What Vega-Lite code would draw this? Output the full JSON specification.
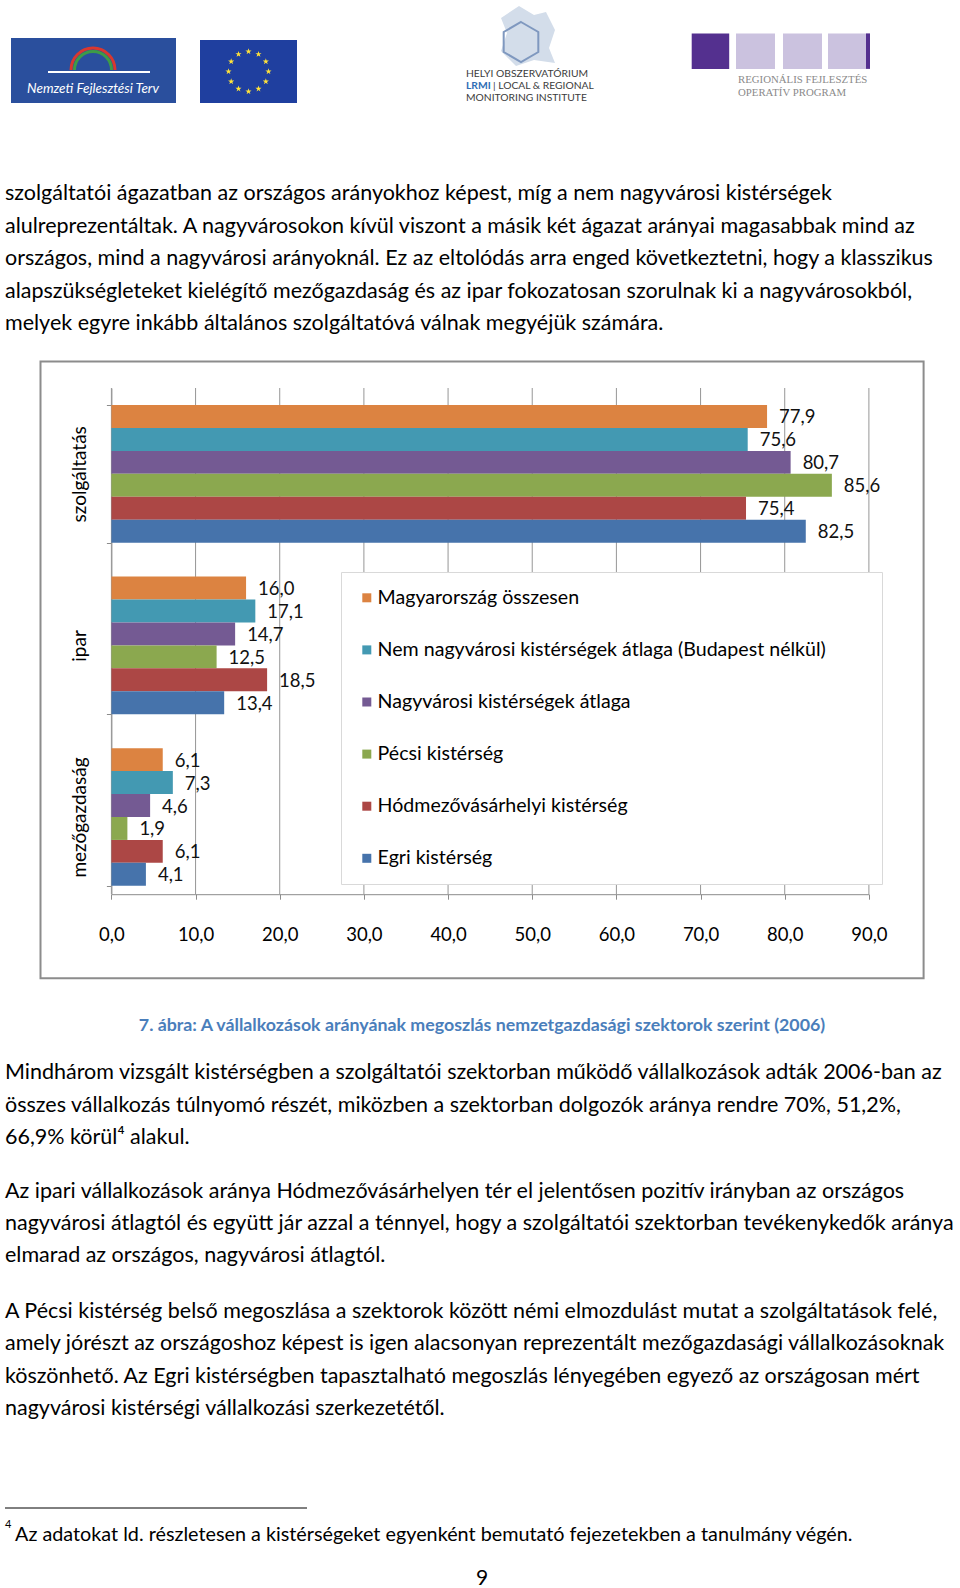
{
  "$schema": "https://vega.github.io/schema/vega-lite/v6.json",
  "width": 960,
  "height": 1588,
  "autosize": {"type": "none"},
  "padding": 0,
  "background": "white",
  "config": {
    "view": {"stroke": null},
    "font": "Lato",
    "locale": {"number": {"decimal": ",", "thousands": " ", "grouping": [3], "currency": ["", " Ft"]}}
  },
  "data": {"values": [{}]},
  "resolve": {"scale": {"x": "independent", "y": "independent"}},
  "layer": [
    {"mark": {"type": "rect", "fill": "white", "fillOpacity": 0, "stroke": "#8C8C8C", "strokeWidth": 2},
     "encoding": {"x": {"datum": 40.5, "type": "quantitative", "scale": {"domain": [0, 960], "range": [0, 960], "nice": false, "zero": false}, "axis": null}, "x2": {"datum": 923.6},
                  "y": {"datum": 361.5, "type": "quantitative", "scale": {"domain": [0, 1588], "range": [0, 1588], "nice": false, "zero": false}, "axis": null}, "y2": {"datum": 978.3}}},
    {
      "data": {"values": [{"t": 0}, {"t": 10}, {"t": 20}, {"t": 30}, {"t": 40}, {"t": 50}, {"t": 60}, {"t": 70}, {"t": 80}, {"t": 90}]},
      "mark": {"type": "rule", "color": "#969696", "strokeWidth": 1},
      "encoding": {
        "x": {"field": "t", "type": "quantitative", "title": null,
              "scale": {"domain": [0, 90], "range": [111.4, 868.9], "nice": false, "zero": false},
              "axis": {"orient": "bottom", "offset": -693.8, "values": [0, 10, 20, 30, 40, 50, 60, 70, 80, 90], "format": ".1f", "grid": false,
                       "labelFlush": false, "labelOverlap": false,
                       "domainColor": "#8C8C8C", "tickColor": "#8C8C8C", "tickSize": 5, "labelFont": "Lato", "labelFontSize": 18.5,
                       "labelColor": "#000", "labelPadding": 26, "title": null}},
        "y": {"datum": 0, "type": "quantitative", "scale": {"domain": [0, 1], "range": [894.2, 388], "nice": false, "zero": false}, "axis": null},
        "y2": {"datum": 1}
      }
    },
    {
      "data": {"values": [
        {"cat": "szolgáltatás", "ser": "Magyarország összesen", "value": 77.9},
        {"cat": "szolgáltatás", "ser": "Nem nagyvárosi kistérségek átlaga (Budapest nélkül)", "value": 75.6},
        {"cat": "szolgáltatás", "ser": "Nagyvárosi kistérségek átlaga", "value": 80.7},
        {"cat": "szolgáltatás", "ser": "Pécsi kistérség", "value": 85.6},
        {"cat": "szolgáltatás", "ser": "Hódmezővásárhelyi kistérség", "value": 75.4},
        {"cat": "szolgáltatás", "ser": "Egri kistérség", "value": 82.5},
        {"cat": "ipar", "ser": "Magyarország összesen", "value": 16.0},
        {"cat": "ipar", "ser": "Nem nagyvárosi kistérségek átlaga (Budapest nélkül)", "value": 17.1},
        {"cat": "ipar", "ser": "Nagyvárosi kistérségek átlaga", "value": 14.7},
        {"cat": "ipar", "ser": "Pécsi kistérség", "value": 12.5},
        {"cat": "ipar", "ser": "Hódmezővásárhelyi kistérség", "value": 18.5},
        {"cat": "ipar", "ser": "Egri kistérség", "value": 13.4},
        {"cat": "mezőgazdaság", "ser": "Magyarország összesen", "value": 6.1},
        {"cat": "mezőgazdaság", "ser": "Nem nagyvárosi kistérségek átlaga (Budapest nélkül)", "value": 7.3},
        {"cat": "mezőgazdaság", "ser": "Nagyvárosi kistérségek átlaga", "value": 4.6},
        {"cat": "mezőgazdaság", "ser": "Pécsi kistérség", "value": 1.9},
        {"cat": "mezőgazdaság", "ser": "Hódmezővásárhelyi kistérség", "value": 6.1},
        {"cat": "mezőgazdaság", "ser": "Egri kistérség", "value": 4.1}
      ]},
      "encoding": {
        "y": {"field": "cat", "type": "nominal", "title": null,
              "sort": ["szolgáltatás", "ipar", "mezőgazdaság"],
              "scale": {"domain": ["szolgáltatás", "ipar", "mezőgazdaság"], "range": [388, 894.2], "paddingInner": 0.1975, "paddingOuter": 0.074, "align": 0.67},
              "axis": {"orient": "left", "offset": -111.4, "tickBand": "extent", "domainColor": "#8C8C8C", "tickColor": "#8C8C8C", "tickSize": 5,
                       "labelAngle": -90, "labelAlign": "center", "labelBaseline": "bottom", "labelFont": "Lato", "labelFontSize": 19,
                       "labelColor": "#000", "labelPadding": 17, "title": null}},
        "yOffset": {"field": "ser", "type": "nominal",
                    "sort": ["Magyarország összesen", "Nem nagyvárosi kistérségek átlaga (Budapest nélkül)", "Nagyvárosi kistérségek átlaga", "Pécsi kistérség", "Hódmezővásárhelyi kistérség", "Egri kistérség"],
                    "scale": {"domain": ["Magyarország összesen", "Nem nagyvárosi kistérségek átlaga (Budapest nélkül)", "Nagyvárosi kistérségek átlaga", "Pécsi kistérség", "Hódmezővásárhelyi kistérség", "Egri kistérség"], "paddingInner": 0, "paddingOuter": 0}},
        "x": {"field": "value", "type": "quantitative", "title": null,
              "scale": {"domain": [0, 90], "range": [111.4, 868.9], "nice": false, "zero": false}, "axis": null}
      },
      "layer": [
        {
          "mark": {"type": "bar"},
          "encoding": {
            "color": {"field": "ser", "type": "nominal",
                      "scale": {"domain": ["Magyarország összesen", "Nem nagyvárosi kistérségek átlaga (Budapest nélkül)", "Nagyvárosi kistérségek átlaga", "Pécsi kistérség", "Hódmezővásárhelyi kistérség", "Egri kistérség"],
                                "range": ["#DC8341", "#4399B2", "#745A93", "#8BA84F", "#AC4745", "#4673AB"]},
                      "legend": {"orient": "none", "legendX": 341, "legendY": 572, "title": null, "fillColor": "white", "strokeColor": "#D9D9D9",
                                 "padding": 16, "symbolType": "square", "symbolSize": 81, "symbolStrokeWidth": 0,
                                 "labelFont": "Lato", "labelFontSize": 19.6, "labelColor": "#000", "rowPadding": 31.1, "labelOffset": 1, "labelLimit": 800,
                                 "labelExpr": "datum.label + '\u00a0\u00a0\u00a0\u00a0\u00a0\u2800'"}}
          }
        },
        {
          "mark": {"type": "text", "align": "left", "baseline": "middle", "dx": 12, "dy": 1, "font": "Lato", "fontSize": 18.5, "color": "#111"},
          "encoding": {"text": {"field": "value", "type": "quantitative", "format": ".1f"}}
        }
      ]
    },
    {"mark": {"type": "rect", "color": "#2A4F9D"},
     "encoding": {"x": {"datum": 11, "type": "quantitative", "scale": {"domain": [0, 960], "range": [0, 960], "nice": false, "zero": false}, "axis": null}, "x2": {"datum": 176},
                  "y": {"datum": 38, "type": "quantitative", "scale": {"domain": [0, 1588], "range": [0, 1588], "nice": false, "zero": false}, "axis": null}, "y2": {"datum": 103}}},
    {"mark": {"type": "rect", "color": "#1F3F9F"},
     "encoding": {"x": {"datum": 200, "type": "quantitative", "scale": {"domain": [0, 960], "range": [0, 960], "nice": false, "zero": false}, "axis": null}, "x2": {"datum": 297},
                  "y": {"datum": 40, "type": "quantitative", "scale": {"domain": [0, 1588], "range": [0, 1588], "nice": false, "zero": false}, "axis": null}, "y2": {"datum": 103}}},
    {"mark": {"type": "rect", "color": "#54308F"},
     "encoding": {"x": {"datum": 691.7, "type": "quantitative", "scale": {"domain": [0, 960], "range": [0, 960], "nice": false, "zero": false}, "axis": null}, "x2": {"datum": 729.2},
                  "y": {"datum": 33.4, "type": "quantitative", "scale": {"domain": [0, 1588], "range": [0, 1588], "nice": false, "zero": false}, "axis": null}, "y2": {"datum": 68.9}}},
    {"mark": {"type": "rect", "color": "#CBC2DF"},
     "encoding": {"x": {"datum": 736, "type": "quantitative", "scale": {"domain": [0, 960], "range": [0, 960], "nice": false, "zero": false}, "axis": null}, "x2": {"datum": 775},
                  "y": {"datum": 33.4, "type": "quantitative", "scale": {"domain": [0, 1588], "range": [0, 1588], "nice": false, "zero": false}, "axis": null}, "y2": {"datum": 68.9}}},
    {"mark": {"type": "rect", "color": "#CBC2DF"},
     "encoding": {"x": {"datum": 783, "type": "quantitative", "scale": {"domain": [0, 960], "range": [0, 960], "nice": false, "zero": false}, "axis": null}, "x2": {"datum": 822},
                  "y": {"datum": 33.4, "type": "quantitative", "scale": {"domain": [0, 1588], "range": [0, 1588], "nice": false, "zero": false}, "axis": null}, "y2": {"datum": 68.9}}},
    {"mark": {"type": "rect", "color": "#CBC2DF"},
     "encoding": {"x": {"datum": 828, "type": "quantitative", "scale": {"domain": [0, 960], "range": [0, 960], "nice": false, "zero": false}, "axis": null}, "x2": {"datum": 866},
                  "y": {"datum": 33.4, "type": "quantitative", "scale": {"domain": [0, 1588], "range": [0, 1588], "nice": false, "zero": false}, "axis": null}, "y2": {"datum": 68.9}}},
    {"mark": {"type": "rect", "color": "#54308F"},
     "encoding": {"x": {"datum": 866, "type": "quantitative", "scale": {"domain": [0, 960], "range": [0, 960], "nice": false, "zero": false}, "axis": null}, "x2": {"datum": 870},
                  "y": {"datum": 33.4, "type": "quantitative", "scale": {"domain": [0, 1588], "range": [0, 1588], "nice": false, "zero": false}, "axis": null}, "y2": {"datum": 68.9}}},
    {"mark": {"type": "point", "filled": true, "opacity": 1, "color": "#FFE23A", "size": 2500,
              "shape": "M0,-0.93l0.0294,0.0895l0.0942,0.0003l-0.076,0.0557l0.0288,0.0897l-0.0764,-0.0552l-0.0764,0.0552l0.0288,-0.0897l-0.076,-0.0557l0.0942,-0.0003zM0.4,-0.8228l0.0294,0.0895l0.0942,0.0003l-0.076,0.0557l0.0288,0.0897l-0.0764,-0.0552l-0.0764,0.0552l0.0288,-0.0897l-0.076,-0.0557l0.0942,-0.0003zM0.6928,-0.53l0.0294,0.0895l0.0942,0.0003l-0.076,0.0557l0.0288,0.0897l-0.0764,-0.0552l-0.0764,0.0552l0.0288,-0.0897l-0.076,-0.0557l0.0942,-0.0003zM0.8,-0.13l0.0294,0.0895l0.0942,0.0003l-0.076,0.0557l0.0288,0.0897l-0.0764,-0.0552l-0.0764,0.0552l0.0288,-0.0897l-0.076,-0.0557l0.0942,-0.0003zM0.6928,0.27l0.0294,0.0895l0.0942,0.0003l-0.076,0.0557l0.0288,0.0897l-0.0764,-0.0552l-0.0764,0.0552l0.0288,-0.0897l-0.076,-0.0557l0.0942,-0.0003zM0.4,0.5628l0.0294,0.0895l0.0942,0.0003l-0.076,0.0557l0.0288,0.0897l-0.0764,-0.0552l-0.0764,0.0552l0.0288,-0.0897l-0.076,-0.0557l0.0942,-0.0003zM0,0.67l0.0294,0.0895l0.0942,0.0003l-0.076,0.0557l0.0288,0.0897l-0.0764,-0.0552l-0.0764,0.0552l0.0288,-0.0897l-0.076,-0.0557l0.0942,-0.0003zM-0.4,0.5628l0.0294,0.0895l0.0942,0.0003l-0.076,0.0557l0.0288,0.0897l-0.0764,-0.0552l-0.0764,0.0552l0.0288,-0.0897l-0.076,-0.0557l0.0942,-0.0003zM-0.6928,0.27l0.0294,0.0895l0.0942,0.0003l-0.076,0.0557l0.0288,0.0897l-0.0764,-0.0552l-0.0764,0.0552l0.0288,-0.0897l-0.076,-0.0557l0.0942,-0.0003zM-0.8,-0.13l0.0294,0.0895l0.0942,0.0003l-0.076,0.0557l0.0288,0.0897l-0.0764,-0.0552l-0.0764,0.0552l0.0288,-0.0897l-0.076,-0.0557l0.0942,-0.0003zM-0.6928,-0.53l0.0294,0.0895l0.0942,0.0003l-0.076,0.0557l0.0288,0.0897l-0.0764,-0.0552l-0.0764,0.0552l0.0288,-0.0897l-0.076,-0.0557l0.0942,-0.0003zM-0.4,-0.8228l0.0294,0.0895l0.0942,0.0003l-0.076,0.0557l0.0288,0.0897l-0.0764,-0.0552l-0.0764,0.0552l0.0288,-0.0897l-0.076,-0.0557l0.0942,-0.0003z"},
     "encoding": {"x": {"datum": 248.5, "type": "quantitative", "scale": {"domain": [0, 960], "range": [0, 960], "nice": false, "zero": false}, "axis": null},
                  "y": {"datum": 71.5, "type": "quantitative", "scale": {"domain": [0, 1588], "range": [0, 1588], "nice": false, "zero": false}, "axis": null}}},
    {"mark": {"type": "point", "filled": false, "opacity": 1, "stroke": "#D9382F", "strokeWidth": 3, "size": 1936, "shape": "M-1,0A1,1,0,0,1,1,0"},
     "encoding": {"x": {"datum": 93, "type": "quantitative", "scale": {"domain": [0, 960], "range": [0, 960], "nice": false, "zero": false}, "axis": null},
                  "y": {"datum": 70, "type": "quantitative", "scale": {"domain": [0, 1588], "range": [0, 1588], "nice": false, "zero": false}, "axis": null}}},
    {"mark": {"type": "point", "filled": false, "opacity": 1, "stroke": "#3E9B47", "strokeWidth": 3, "size": 1369, "shape": "M-1,0A1,1,0,0,1,1,0"},
     "encoding": {"x": {"datum": 93, "type": "quantitative", "scale": {"domain": [0, 960], "range": [0, 960], "nice": false, "zero": false}, "axis": null},
                  "y": {"datum": 70, "type": "quantitative", "scale": {"domain": [0, 1588], "range": [0, 1588], "nice": false, "zero": false}, "axis": null}}},
    {"mark": {"type": "rule", "color": "white", "strokeWidth": 2},
     "encoding": {"x": {"datum": 48, "type": "quantitative", "scale": {"domain": [0, 960], "range": [0, 960], "nice": false, "zero": false}, "axis": null}, "x2": {"datum": 150},
                  "y": {"datum": 72, "type": "quantitative", "scale": {"domain": [0, 1588], "range": [0, 1588], "nice": false, "zero": false}, "axis": null}}},
    {"mark": {"type": "text", "color": "white", "fontStyle": "italic", "fontSize": 13.5, "align": "center", "baseline": "middle", "text": "Nemzeti Fejlesztési Terv"},
     "encoding": {"x": {"datum": 93, "type": "quantitative", "scale": {"domain": [0, 960], "range": [0, 960], "nice": false, "zero": false}, "axis": null},
                  "y": {"datum": 89, "type": "quantitative", "scale": {"domain": [0, 1588], "range": [0, 1588], "nice": false, "zero": false}, "axis": null}}},
    {"mark": {"type": "point", "filled": true, "opacity": 1, "color": "#D3DDEA", "size": 3600,
              "shape": "M-0.3,-1L0.2,-0.7L0.6,-0.8L0.9,-0.2L0.7,0.4L0.9,0.9L0.2,0.8L-0.4,1L-0.9,0.5L-0.7,-0.1L-0.9,-0.6Z"},
     "encoding": {"x": {"datum": 528, "type": "quantitative", "scale": {"domain": [0, 960], "range": [0, 960], "nice": false, "zero": false}, "axis": null},
                  "y": {"datum": 36, "type": "quantitative", "scale": {"domain": [0, 1588], "range": [0, 1588], "nice": false, "zero": false}, "axis": null}}},
    {"mark": {"type": "point", "filled": false, "opacity": 1, "stroke": "#7F98BF", "strokeWidth": 2, "size": 1600,
              "shape": "M0,-1L0.866,-0.5L0.866,0.5L0,1L-0.866,0.5L-0.866,-0.5Z"},
     "encoding": {"x": {"datum": 521, "type": "quantitative", "scale": {"domain": [0, 960], "range": [0, 960], "nice": false, "zero": false}, "axis": null},
                  "y": {"datum": 42, "type": "quantitative", "scale": {"domain": [0, 1588], "range": [0, 1588], "nice": false, "zero": false}, "axis": null}}},
    {"mark": {"type": "text", "color": "#3C3C3C", "fontSize": 10.3, "align": "left", "baseline": "middle", "text": "HELYI OBSZERVATÓRIUM"},
     "encoding": {"x": {"datum": 466, "type": "quantitative", "scale": {"domain": [0, 960], "range": [0, 960], "nice": false, "zero": false}, "axis": null},
                  "y": {"datum": 74, "type": "quantitative", "scale": {"domain": [0, 1588], "range": [0, 1588], "nice": false, "zero": false}, "axis": null}}},
    {"mark": {"type": "text", "color": "#2F6EB5", "fontSize": 10.3, "fontWeight": "bold", "align": "left", "baseline": "middle", "text": "LRMI"},
     "encoding": {"x": {"datum": 466, "type": "quantitative", "scale": {"domain": [0, 960], "range": [0, 960], "nice": false, "zero": false}, "axis": null},
                  "y": {"datum": 86, "type": "quantitative", "scale": {"domain": [0, 1588], "range": [0, 1588], "nice": false, "zero": false}, "axis": null}}},
    {"mark": {"type": "text", "color": "#3C3C3C", "fontSize": 10.3, "align": "left", "baseline": "middle", "text": "| LOCAL & REGIONAL"},
     "encoding": {"x": {"datum": 493, "type": "quantitative", "scale": {"domain": [0, 960], "range": [0, 960], "nice": false, "zero": false}, "axis": null},
                  "y": {"datum": 86, "type": "quantitative", "scale": {"domain": [0, 1588], "range": [0, 1588], "nice": false, "zero": false}, "axis": null}}},
    {"mark": {"type": "text", "color": "#3C3C3C", "fontSize": 10.3, "align": "left", "baseline": "middle", "text": "MONITORING INSTITUTE"},
     "encoding": {"x": {"datum": 466, "type": "quantitative", "scale": {"domain": [0, 960], "range": [0, 960], "nice": false, "zero": false}, "axis": null},
                  "y": {"datum": 98, "type": "quantitative", "scale": {"domain": [0, 1588], "range": [0, 1588], "nice": false, "zero": false}, "axis": null}}},
    {"mark": {"type": "text", "color": "#8A8A8A", "font": "Liberation Serif", "fontSize": 10.8, "align": "left", "baseline": "middle", "text": "REGIONÁLIS FEJLESZTÉS"},
     "encoding": {"x": {"datum": 738, "type": "quantitative", "scale": {"domain": [0, 960], "range": [0, 960], "nice": false, "zero": false}, "axis": null},
                  "y": {"datum": 80, "type": "quantitative", "scale": {"domain": [0, 1588], "range": [0, 1588], "nice": false, "zero": false}, "axis": null}}},
    {"mark": {"type": "text", "color": "#8A8A8A", "font": "Liberation Serif", "fontSize": 10.8, "align": "left", "baseline": "middle", "text": "OPERATÍV PROGRAM"},
     "encoding": {"x": {"datum": 738, "type": "quantitative", "scale": {"domain": [0, 960], "range": [0, 960], "nice": false, "zero": false}, "axis": null},
                  "y": {"datum": 93, "type": "quantitative", "scale": {"domain": [0, 1588], "range": [0, 1588], "nice": false, "zero": false}, "axis": null}}},
    {"data": {"values": [
        {"ln": 0, "text": "szolgáltatói ágazatban az országos arányokhoz képest, míg a nem nagyvárosi kistérségek"},
        {"ln": 1, "text": "alulreprezentáltak. A nagyvárosokon kívül viszont a másik két ágazat arányai magasabbak mind az"},
        {"ln": 2, "text": "országos, mind a nagyvárosi arányoknál. Ez az eltolódás arra enged következtetni, hogy a klasszikus"},
        {"ln": 3, "text": "alapszükségleteket kielégítő mezőgazdaság és az ipar fokozatosan szorulnak ki a nagyvárosokból,"},
        {"ln": 4, "text": "melyek egyre inkább általános szolgáltatóvá válnak megyéjük számára."}
      ]},
     "mark": {"type": "text", "color": "#000", "fontSize": 21.5, "align": "left", "baseline": "middle"},
     "encoding": {"x": {"datum": 5, "type": "quantitative", "scale": {"domain": [0, 960], "range": [0, 960], "nice": false, "zero": false}, "axis": null},
                  "y": {"field": "ln", "type": "quantitative", "scale": {"domain": [0, 4], "range": [194.4, 324], "nice": false, "zero": false}, "axis": null},
                  "text": {"field": "text"}}},
    {"mark": {"type": "text", "color": "#4A7EBB", "fontSize": 17.8, "fontWeight": "bold", "align": "center", "baseline": "middle",
              "text": "7. ábra: A vállalkozások arányának megoszlás nemzetgazdasági szektorok szerint (2006)"},
     "encoding": {"x": {"datum": 482, "type": "quantitative", "scale": {"domain": [0, 960], "range": [0, 960], "nice": false, "zero": false}, "axis": null},
                  "y": {"datum": 1026, "type": "quantitative", "scale": {"domain": [0, 1588], "range": [0, 1588], "nice": false, "zero": false}, "axis": null}}},
    {"data": {"values": [
        {"ln": 0, "text": "Mindhárom vizsgált kistérségben a szolgáltatói szektorban működő vállalkozások adták 2006-ban az"},
        {"ln": 1, "text": "összes vállalkozás túlnyomó részét, miközben a szektorban dolgozók aránya rendre 70%, 51,2%,"},
        {"ln": 2, "text": "66,9% körül⁴ alakul."},
        {"ln": 3.65, "text": "Az ipari vállalkozások aránya Hódmezővásárhelyen tér el jelentősen pozitív irányban az országos"},
        {"ln": 4.65, "text": "nagyvárosi átlagtól és együtt jár azzal a ténnyel, hogy a szolgáltatói szektorban tevékenykedők aránya"},
        {"ln": 5.65, "text": "elmarad az országos, nagyvárosi átlagtól."},
        {"ln": 7.36, "text": "A Pécsi kistérség belső megoszlása a szektorok között némi elmozdulást mutat a szolgáltatások felé,"},
        {"ln": 8.36, "text": "amely jórészt az országoshoz képest is igen alacsonyan reprezentált mezőgazdasági vállalkozásoknak"},
        {"ln": 9.36, "text": "köszönhető. Az Egri kistérségben tapasztalható megoszlás lényegében egyező az országosan mért"},
        {"ln": 10.36, "text": "nagyvárosi kistérségi vállalkozási szerkezetétől."}
      ]},
     "mark": {"type": "text", "color": "#000", "fontSize": 21.5, "align": "left", "baseline": "middle"},
     "encoding": {"x": {"datum": 5, "type": "quantitative", "scale": {"domain": [0, 960], "range": [0, 960], "nice": false, "zero": false}, "axis": null},
                  "y": {"field": "ln", "type": "quantitative", "scale": {"domain": [0, 1], "range": [1073.4, 1105.8], "nice": false, "zero": false}, "axis": null},
                  "text": {"field": "text"}}},
    {"mark": {"type": "rule", "color": "#000", "strokeWidth": 1},
     "encoding": {"x": {"datum": 5, "type": "quantitative", "scale": {"domain": [0, 960], "range": [0, 960], "nice": false, "zero": false}, "axis": null}, "x2": {"datum": 307},
                  "y": {"datum": 1508, "type": "quantitative", "scale": {"domain": [0, 1588], "range": [0, 1588], "nice": false, "zero": false}, "axis": null}}},
    {"mark": {"type": "text", "color": "#000", "fontSize": 11, "align": "left", "baseline": "middle", "text": "4"},
     "encoding": {"x": {"datum": 5, "type": "quantitative", "scale": {"domain": [0, 960], "range": [0, 960], "nice": false, "zero": false}, "axis": null},
                  "y": {"datum": 1525, "type": "quantitative", "scale": {"domain": [0, 1588], "range": [0, 1588], "nice": false, "zero": false}, "axis": null}}},
    {"mark": {"type": "text", "color": "#000", "fontSize": 19.8, "align": "left", "baseline": "middle",
              "text": "Az adatokat ld. részletesen a kistérségeket egyenként bemutató fejezetekben a tanulmány végén."},
     "encoding": {"x": {"datum": 15, "type": "quantitative", "scale": {"domain": [0, 960], "range": [0, 960], "nice": false, "zero": false}, "axis": null},
                  "y": {"datum": 1535, "type": "quantitative", "scale": {"domain": [0, 1588], "range": [0, 1588], "nice": false, "zero": false}, "axis": null}}},
    {"mark": {"type": "text", "color": "#000", "fontSize": 21, "align": "center", "baseline": "middle", "text": "9"},
     "encoding": {"x": {"datum": 482, "type": "quantitative", "scale": {"domain": [0, 960], "range": [0, 960], "nice": false, "zero": false}, "axis": null},
                  "y": {"datum": 1579, "type": "quantitative", "scale": {"domain": [0, 1588], "range": [0, 1588], "nice": false, "zero": false}, "axis": null}}}
  ]
}
